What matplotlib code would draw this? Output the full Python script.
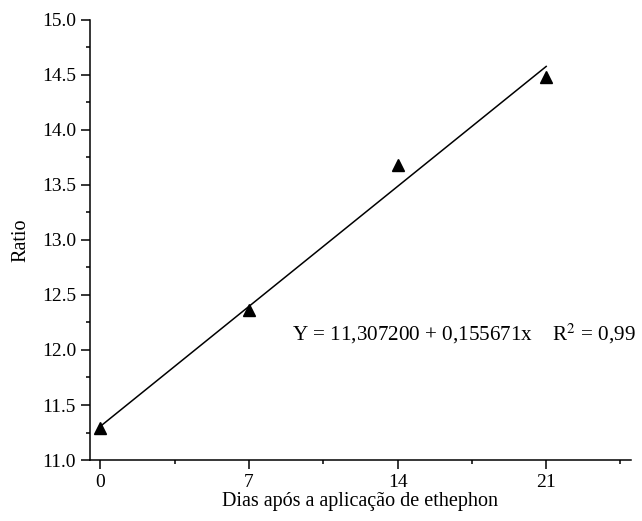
import matplotlib
matplotlib.use("Agg")
import matplotlib.pyplot as plt
from matplotlib.ticker import MultipleLocator, FormatStrFormatter

# observed ratio at each sampling day
dias = [0, 7, 14, 21]
ratio = [11.29, 12.36, 13.68, 14.48]

# fitted linear model
intercepto = 11.307200
inclinacao = 0.155671
r2 = "0,99"

plt.rcParams["font.family"] = ["Liberation Serif", "DejaVu Serif"]
plt.rcParams["mathtext.fontset"] = "stix"

fig = plt.figure(figsize=(6.42, 5.21), dpi=100)
ax = fig.add_axes([0.140, 0.117, 0.843, 0.845])

ax.plot(dias, ratio, linestyle="none", marker="^", markersize=8, color="black")
ajuste = [intercepto + inclinacao * d for d in (dias[0], dias[-1])]
ax.plot([dias[0], dias[-1]], ajuste, color="black", linewidth=1.1)

ax.set_xlim(-0.5, 25)
ax.set_ylim(11.0, 15.0)
ax.xaxis.set_major_locator(MultipleLocator(7))
ax.xaxis.set_minor_locator(MultipleLocator(3.5))
ax.yaxis.set_major_locator(MultipleLocator(0.5))
ax.yaxis.set_minor_locator(MultipleLocator(0.25))
ax.yaxis.set_major_formatter(FormatStrFormatter("%.1f"))

for side in ("top", "right"):
    ax.spines[side].set_visible(False)
for side in ("left", "bottom"):
    ax.spines[side].set_linewidth(1.1)

ax.tick_params(which="major", direction="out", length=6.5, width=1.1, labelsize=14)
ax.tick_params(which="minor", direction="out", length=3, width=1.1)

ax.set_xlabel("Dias após a aplicação de ethephon", fontsize=14.5, labelpad=1)
ax.set_ylabel("Ratio", fontsize=14.5, labelpad=8)

equacao = (f"Y = {intercepto:.6f} + {inclinacao:.6f}x".replace(".", ",")
           + "    R$^2$ = " + r2)
ax.text(9.0, 12.15, equacao, fontsize=15.2, ha="left", va="center", clip_on=False)

fig.savefig("out.png", dpi=100)
